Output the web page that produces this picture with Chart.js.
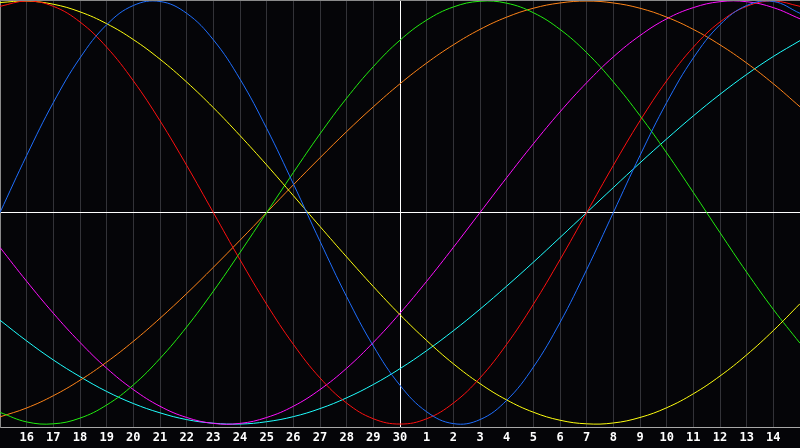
<!DOCTYPE html>
<html>
<head>
<meta charset="utf-8">
<script src="https://cdn.jsdelivr.net/npm/chart.js@4/dist/chart.umd.min.js"></script>
<style>
  html, body { margin: 0; padding: 0; background: #050508; }
  canvas { display: block; }
</style>
</head>
<body>
<canvas id="bioChart" width="800" height="448"></canvas>
<script>
// jours affichés (le premier et le dernier point sont en bord de graphe, sans étiquette)
const jours = ['', '16', '17', '18', '19', '20', '21', '22', '23', '24', '25', '26', '27', '28', '29', '30',
    '1', '2', '3', '4', '5', '6', '7', '8', '9', '10', '11', '12', '13', '14', ''];

// valeurs, de -1 à 1
const physique = [0, 0.27, 0.52, 0.731, 0.888, 0.979, 0.998, 0.942, 0.817, 0.631, 0.398, 0.136, -0.136, -0.398, -0.631,
    -0.817, -0.942, -0.998, -0.979, -0.888, -0.731, -0.52, -0.27, 0, 0.27, 0.52, 0.731, 0.888, 0.979, 0.998, 0.942];
const emotionnel = [0.975, 1, 0.975, 0.901, 0.782, 0.623, 0.434, 0.223, 0, -0.223, -0.434, -0.623, -0.782, -0.901, -0.975,
    -1, -0.975, -0.901, -0.782, -0.623, -0.434, -0.223, 0, 0.223, 0.434, 0.623, 0.782, 0.901, 0.975, 1, 0.975];
const esthetique = [0.993, 1, 0.985, 0.949, 0.893, 0.818, 0.725, 0.617, 0.496, 0.364, 0.225, 0.08, -0.066, -0.21, -0.35,
    -0.483, -0.605, -0.715, -0.809, -0.886, -0.944, -0.982, -0.999, -0.995, -0.969, -0.923, -0.857, -0.773, -0.673, -0.558, -0.431];
const intellectuel = [-0.945, -0.99, -0.999, -0.972, -0.91, -0.815, -0.69, -0.541, -0.372, -0.189, 0, 0.189, 0.372, 0.541, 0.69,
    0.815, 0.91, 0.972, 0.999, 0.99, 0.945, 0.866, 0.756, 0.618, 0.458, 0.282, 0.095, -0.095, -0.282, -0.458, -0.618];
const conscience = [-0.966, -0.924, -0.866, -0.793, -0.707, -0.609, -0.5, -0.383, -0.259, -0.131, 0, 0.131, 0.259, 0.383, 0.5,
    0.609, 0.707, 0.793, 0.866, 0.924, 0.966, 0.991, 1, 0.991, 0.966, 0.924, 0.866, 0.793, 0.707, 0.609, 0.5];
const intuition = [-0.165, -0.325, -0.476, -0.614, -0.736, -0.837, -0.916, -0.969, -0.997, -0.997, -0.969, -0.916, -0.837, -0.736, -0.614,
    -0.476, -0.325, -0.165, 0, 0.165, 0.325, 0.476, 0.614, 0.736, 0.837, 0.916, 0.969, 0.997, 0.997, 0.969, 0.916];
const spirituel = [-0.509, -0.607, -0.697, -0.776, -0.846, -0.903, -0.947, -0.979, -0.996, -1, -0.989, -0.965, -0.927, -0.876, -0.813,
    -0.738, -0.653, -0.559, -0.457, -0.348, -0.235, -0.118, 0, 0.118, 0.235, 0.348, 0.457, 0.559, 0.653, 0.738, 0.813];

const indexAujourdhui = 15;

function courbe(label, data, couleur) {
    return {
        label,
        data,
        borderColor: couleur,
        borderWidth: 1,
        pointRadius: 0,
        fill: false,
        tension: 0.4
    };
}

// cadre gris en haut du graphe
const cadreHaut = {
    id: 'cadreHaut',
    afterDraw(chart) {
        const { ctx, chartArea } = chart;
        ctx.save();
        ctx.strokeStyle = '#8a8a8a';
        ctx.lineWidth = 1;
        ctx.beginPath();
        ctx.moveTo(chartArea.left, chartArea.top + 0.5);
        ctx.lineTo(chartArea.right, chartArea.top + 0.5);
        ctx.stroke();
        ctx.restore();
    }
};

function afficherBiorythme() {
    const ctx = document.getElementById('bioChart').getContext('2d');
    new Chart(ctx, {
        type: 'line',
        data: {
            labels: jours,
            datasets: [
                courbe('Physique', physique, '#1f6fff'),
                courbe('Émotionnel', emotionnel, '#ff1010'),
                courbe('Esthétique', esthetique, '#ffff10'),
                courbe('Intellectuel', intellectuel, '#22ee10'),
                courbe('Conscience', conscience, '#ff8418'),
                courbe('Intuition', intuition, '#ff10ff'),
                courbe('Spirituel', spirituel, '#20ffff')
            ]
        },
        options: {
            responsive: false,
            animation: false,
            layout: { padding: 0 },
            plugins: {
                legend: { display: false },
                tooltip: { enabled: false }
            },
            scales: {
                x: {
                    offset: false,
                    border: { display: true, color: '#a8a8a8', width: 1 },
                    grid: {
                        drawTicks: false,
                        lineWidth: 1,
                        color: c => c.index === indexAujourdhui ? '#ffffff' : (c.index === 0 ? 'rgba(0,0,0,0)' : '#333338')
                    },
                    ticks: {
                        autoSkip: false,
                        maxRotation: 0,
                        padding: 4,
                        color: '#ffffff',
                        font: { family: 'DejaVu Sans Mono', weight: 'bold', size: 12 }
                    },
                    afterFit: scale => {
                        scale.height = 21;
                        scale.paddingLeft = 0;
                        scale.paddingRight = 0;
                    }
                },
                y: {
                    min: -1.014,
                    max: 1.005,
                    border: { display: true, color: '#8a8a8a', width: 1 },
                    grid: {
                        drawTicks: false,
                        color: c => c.tick && c.tick.value === 0 ? '#ffffff' : 'rgba(0,0,0,0)'
                    },
                    ticks: { display: false, stepSize: 1 },
                    afterFit: scale => { scale.width = 0; }
                }
            }
        },
        plugins: [cadreHaut]
    });
}
document.addEventListener('DOMContentLoaded', afficherBiorythme);
</script>
</body>
</html>
